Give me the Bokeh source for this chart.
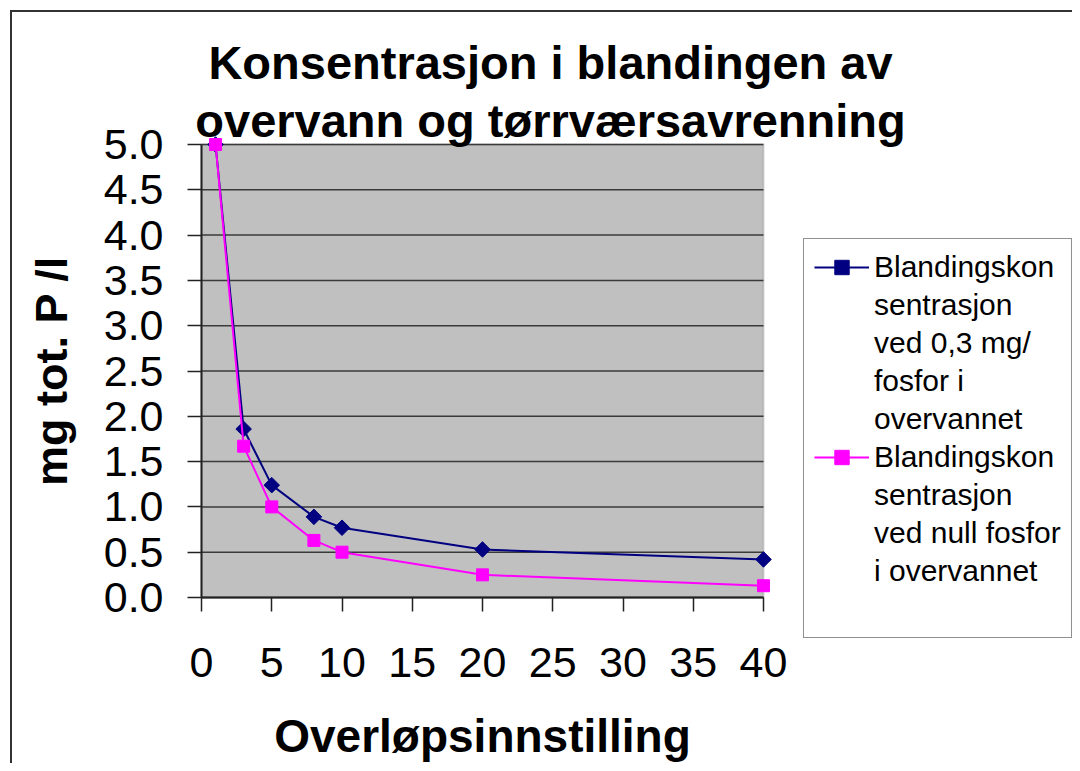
from bokeh.plotting import figure
from bokeh.models import (Range1d, FixedTicker, PrintfTickFormatter, Label, Legend,
                          LegendItem, BoxAnnotation)
from bokeh.embed import file_html
from bokeh.resources import INLINE
import math

# ---- data ----
overlop = [1, 3, 5, 8, 10, 20, 40]
konsentrasjon_03 = [5.0, 1.86, 1.24, 0.89, 0.77, 0.53, 0.42]
konsentrasjon_null = [5.0, 1.67, 1.0, 0.63, 0.5, 0.25, 0.13]
x_ticks = [0, 5, 10, 15, 20, 25, 30, 35, 40]
y_ticks = [0.0, 0.5, 1.0, 1.5, 2.0, 2.5, 3.0, 3.5, 4.0, 4.5, 5.0]
x_span = (0, 40)
y_span = (0, 5)
label_03 = ["Blandingskon", "sentrasjon", "ved 0,3 mg/", "fosfor i", "overvannet"]
label_null = ["Blandingskon", "sentrasjon", "ved null fosfor", "i overvannet"]
title_1 = "Konsentrasjon i blandingen av"
title_2 = "overvann og tørrværsavrenning"
x_title = "Overløpsinnstilling"
y_title = "mg tot. P /l"

FONT = "Liberation Sans"
W, H = 1072, 763
# pixel box of the grey plot area
FL, FR, FT, FB = 201, 763, 144, 597

# the frame covers the whole canvas; the visible plot area is limited to
# x_span / y_span and the axes are pinned at x=0 / y=0
px_per_x = (FR - FL) / (x_span[1] - x_span[0])
px_per_y = (FB - FT) / (y_span[1] - y_span[0])
x_start = x_span[0] - FL / px_per_x
x_end = x_span[1] + (W - FR) / px_per_x
y_start = y_span[0] - (H - FB) / px_per_y
y_end = y_span[1] + FT / px_per_y


def px_to_x(px):
    return x_start + px / px_per_x


def px_to_y(py):
    return y_end - py / px_per_y


p = figure(width=W, height=H, output_backend="svg", toolbar_location=None,
           x_range=Range1d(x_start, x_end), y_range=Range1d(y_start, y_end),
           title=None, min_border_left=0, min_border_right=0, min_border_top=0,
           min_border_bottom=0, background_fill_alpha=0, border_fill_alpha=0,
           outline_line_color=None)

# outer chart border (left and top edges visible in the reference)
p.styles = {
    "background-color": "white",
    "background-image": "linear-gradient(#333333, #333333), linear-gradient(#333333, #333333)",
    "background-size": "2px 100%, 100% 2px",
    "background-position": "10px 10px, 10px 10px",
    "background-repeat": "no-repeat",
}

# grey plot area
p.add_layout(BoxAnnotation(left=x_span[0], right=x_span[1], bottom=y_span[0],
                           top=y_span[1], fill_color="#C0C0C0", fill_alpha=1,
                           line_color="#808080", line_width=2, level="image"))

# horizontal grid lines, limited to the plot area
p.xgrid.grid_line_color = None
p.ygrid.grid_line_color = None
p.segment(x0=[x_span[0]] * len(y_ticks), x1=[x_span[1]] * len(y_ticks),
          y0=y_ticks, y1=y_ticks, line_color="#3a3a3a", line_width=1.5)

# axes
for ax in (p.xaxis[0], p.yaxis[0]):
    ax.axis_line_color = "#222222"
    ax.axis_line_width = 2
    ax.major_tick_line_color = "#222222"
    ax.major_tick_line_width = 1.5
    ax.major_tick_in = 0
    ax.major_tick_out = 14
    ax.minor_tick_line_color = None
    ax.major_label_text_font = FONT
    ax.major_label_text_font_size = "43px"
    ax.major_label_text_color = "black"
    ax.axis_label_text_font = FONT
    ax.axis_label_text_font_style = "bold"
    ax.axis_label_text_color = "black"

p.xaxis[0].fixed_location = 0
p.xaxis[0].bounds = x_span
p.xaxis[0].ticker = FixedTicker(ticks=x_ticks)
p.xaxis[0].major_label_standoff = 36
p.xaxis[0].axis_label = x_title
p.xaxis[0].axis_label_text_font_size = "46px"
p.xaxis[0].axis_label_standoff = 30

p.yaxis[0].fixed_location = 0
p.yaxis[0].bounds = y_span
p.yaxis[0].ticker = FixedTicker(ticks=y_ticks)
p.yaxis[0].formatter = PrintfTickFormatter(format="%.1f")
p.yaxis[0].major_label_standoff = 24
p.yaxis[0].axis_label = y_title
p.yaxis[0].axis_label_text_font_size = "45px"
p.yaxis[0].axis_label_standoff = 24

# two-line chart title
for txt, base in ((title_1, 62), (title_2, 120)):
    p.add_layout(Label(x=px_to_x(550), y=px_to_y(base), text=txt,
                       text_align="center", text_baseline="alphabetic",
                       text_font=FONT, text_font_size="47px",
                       text_font_style="bold", text_color="black"))

# series
l1 = p.line(overlop, konsentrasjon_03, line_color="#000080", line_width=2)
s1 = p.scatter(overlop, konsentrasjon_03, marker="square", angle=math.pi / 4,
               size=11, fill_color="#000080", line_color="#000080")
l2 = p.line(overlop, konsentrasjon_null, line_color="#FF00FF", line_width=2)
s2 = p.scatter(overlop, konsentrasjon_null, marker="square", size=12,
               fill_color="#FF00FF", line_color="#FF00FF")

# invisible renderer used for the wrapped continuation lines of the legend labels
blank = p.line(x=[], y=[], line_alpha=0)

items = [LegendItem(label=label_03[0], renderers=[l1, s1])]
items += [LegendItem(label=t, renderers=[blank]) for t in label_03[1:]]
items += [LegendItem(label=label_null[0], renderers=[l2, s2])]
items += [LegendItem(label=t, renderers=[blank]) for t in label_null[1:]]
items += [LegendItem(label="", renderers=[blank])]

legend = Legend(items=items, location=(803, 125), padding=10, margin=0, spacing=2,
                glyph_width=55, glyph_height=36, label_height=36, label_standoff=5,
                label_text_font=FONT, label_text_font_size="30px",
                label_text_color="black",
                background_fill_color="white", background_fill_alpha=1,
                border_line_color="#222222", border_line_width=1.5)
p.add_layout(legend)

open("out.html", "w").write(file_html(p, INLINE))
